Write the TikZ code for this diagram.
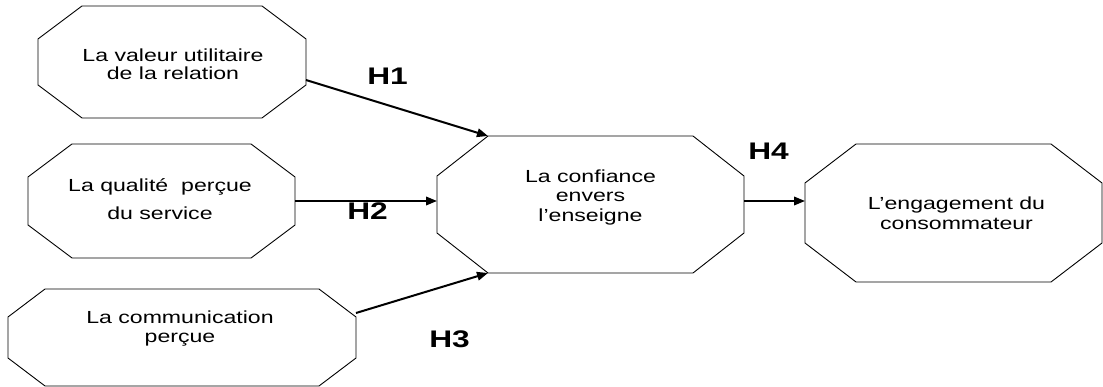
\documentclass[tikz,border=0pt]{standalone}
\usepackage{fontspec}
\setmainfont[FakeStretch=1.32]{Liberation Sans}
\usetikzlibrary{arrows.meta}
\newcommand\octa[3]{\draw[outline] ([xshift=#2]#1.north west) -- ([xshift=-#2]#1.north east) -- ([yshift=-#3]#1.north east) -- ([yshift=#3]#1.south east) -- ([xshift=-#2]#1.south east) -- ([xshift=#2]#1.south west) -- ([yshift=#3]#1.south west) -- ([yshift=-#3]#1.north west) -- cycle;}
\begin{document}
\begin{tikzpicture}[x=1pt,y=-1pt,
  boxarea/.style={draw=none, rectangle, inner sep=0pt, outer sep=0pt},
  outline/.style={draw=black, line width=0.9pt, line join=miter},
  boxtext/.style={align=center, inner sep=0pt, font=\fontsize{17.5pt}{#1}\selectfont},
  hyp/.style={inner sep=0pt, font=\fontsize{24pt}{28pt}\selectfont\bfseries},
  link/.style={line width=2pt, -{Triangle[length=11pt,width=8.5pt]}}
]
\useasboundingbox (0,0) rectangle (1103,387);

% boxes
\node[boxarea, minimum width=268pt, minimum height=112pt] (b1) at (172,62) {};
\octa{b1}{44pt}{33pt}
\node[boxarea, minimum width=267pt, minimum height=114pt] (b2) at (161.5,201) {};
\octa{b2}{44pt}{33pt}
\node[boxarea, minimum width=348pt, minimum height=97pt] (b3) at (182,337.5) {};
\octa{b3}{37pt}{28pt}
\node[boxarea, minimum width=307pt, minimum height=137pt] (b4) at (590.5,204.5) {};
\octa{b4}{51pt}{40pt}
\node[boxarea, minimum width=297pt, minimum height=138pt] (b5) at (953.5,213) {};
\octa{b5}{51pt}{39pt}

% texts
\node[boxtext=17.5pt] (t1) at (173,64) {La valeur utilitaire\\de la relation};
\node[boxtext=28pt] (t2) at (160,199.5) {La qualité\ \ perçue\\du service};
\node[boxtext=19pt] (t3) at (180,329) {La communication\\perçue};
\node[boxtext=19.5pt] (t4) at (590.5,197) {La confiance\\envers\hspace*{12pt}\\l’enseigne};
\node[boxtext=20pt] (t5) at (956.5,212.8) {L’engagement du\\consommateur};

% hypothesis labels
\node[hyp] (h1) at (387.5,76.5) {H1};
\node[hyp] (h2) at (367.5,211) {H2};
\node[hyp] (h3) at (449.5,339) {H3};
\node[hyp] (h4) at (768.5,151.5) {H4};

% connectors
\coordinate (s1) at ([yshift=-18pt]b1.east);
\coordinate (e1) at ([xshift=51pt]b4.north west);
\coordinate (s3) at ([yshift=24.5pt]b3.east);
\coordinate (e3) at ([xshift=51pt]b4.south west);
\coordinate (s4) at ([yshift=3.5pt]b4.east);
\draw[link] (s1) -- (e1);
\draw[link] (b2.east) -- (b2.east -| b4.west);
\draw[link] (s3) -- (e3);
\draw[link] (s4) -- (s4 -| b5.west);
\end{tikzpicture}
\end{document}
